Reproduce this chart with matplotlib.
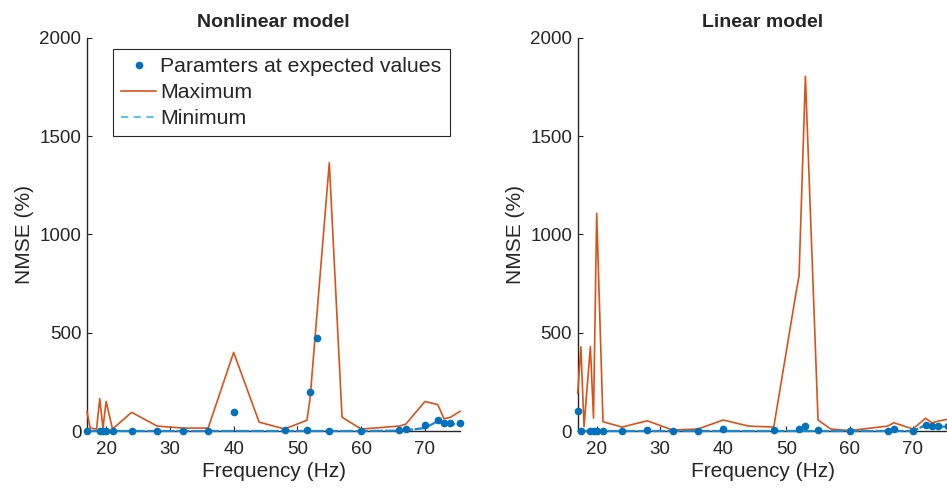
import numpy as np
import matplotlib
matplotlib.use('Agg')
import matplotlib.pyplot as plt
from matplotlib.lines import Line2D

plt.rcParams['font.family'] = ['Liberation Sans', 'DejaVu Sans']

# frequency grid (Hz), shared by both models
freq = [17, 17.5, 18, 18.5, 19, 19.5, 20, 21, 24, 28, 32, 36, 40, 44, 48,
        51.5, 52, 53, 55, 57, 60, 66, 67, 70, 72, 73, 74, 75.5]

# nonlinear model NMSE (%)
nl_expected = [2, np.nan, np.nan, np.nan, 2, 2, 2, 2, 2, 2, 2, 2, 97, np.nan, 3,
               5, 200, 472, 2, np.nan, 2, 5, 8, 30, 58, 42, 40, 40]
nl_max = [98, 15, 12, 10, 165, 15, 150, 10, 95, 25, 15, 15, 400, 45, 10,
          55, 170, 570, 1365, 70, 10, 25, 35, 150, 135, 62, 70, 100]
nl_min = [0, 0, 0, 0, 0, 0, 0, 0, 0, 0, 0, 0, 0, 0, 0,
          0, 0, 0, 0, 0, 0, 2, 4, 15, 50, 35, 35, 35]

# linear model NMSE (%)
lin_expected = [102, 0, np.nan, np.nan, 0, 0, 0, 0, 0, 5, 0, 0, 10, np.nan, 5,
                np.nan, 10, 25, 5, np.nan, 0, 0, 12, 0, 30, 25, 25, 25]
lin_max = [192, 429, 22, 225, 429, 66, 1108, 47, 20, 52, 5, 10, 56, 25, 20,
           700, 790, 1805, 56, 10, 2, 25, 42, 10, 65, 42, 50, 60]
lin_min = [0, 0, 0, 0, 0, 0, 0, 0, 0, 0, 0, 0, 0, 0, 0,
           0, 0, 0, 0, 0, 0, 0, 0, 0, 30, 22, 22, 22]

c_dot = '#0072BD'
c_max = '#D95319'
c_min = '#4DBEEE'
c_txt = '#262626'

W, H = 947, 490
fig = plt.figure(figsize=(W/100, H/100), dpi=100)
ax1 = fig.add_axes([87/W, 1-431/H, 373/W, 393/H])
ax2 = fig.add_axes([577.7/W, 1-431/H, 370/W, 393/H])

for ax, exp_v, max_v, min_v, title in [(ax1, nl_expected, nl_max, nl_min, 'Nonlinear model'),
                                       (ax2, lin_expected, lin_max, lin_min, 'Linear model')]:
    ax.plot(freq, exp_v, '.', color=c_dot, markersize=9, zorder=5, clip_on=False)
    ax.plot(freq, max_v, '-', color=c_max, linewidth=1.2, zorder=3, clip_on=False)
    # dashed minimum, drawn the way matlab renders it on screen (dashes merge on the baseline)
    ax.plot(freq, min_v, linestyle=(0, (6, 0.7)), color='#1F88CC', linewidth=1.6,
            zorder=4, clip_on=False)
    ax.set_xlim(17, 75.5)
    ax.set_ylim(0, 2000)
    ax.set_xticks([20, 30, 40, 50, 60, 70])
    ax.set_yticks([0, 500, 1000, 1500, 2000])
    for s in ['top', 'right']:
        ax.spines[s].set_visible(False)
    for s in ['left', 'bottom']:
        ax.spines[s].set_color(c_txt)
        ax.spines[s].set_linewidth(1.0)
    ax.tick_params(direction='in', length=3.5, width=0.8, colors=c_txt, labelsize=13.5)
    ax.tick_params(axis='x', pad=7)
    ax.tick_params(axis='y', pad=4)
    ax.set_xlabel('Frequency (Hz)', fontsize=15, color=c_txt, labelpad=3)
    ax.set_ylabel('NMSE (%)', fontsize=15, color=c_txt, labelpad=4)
    ax.set_title(title, fontsize=14, fontweight='bold', color=c_txt, pad=8)

handles = [Line2D([], [], linestyle='none', marker='.', markersize=9, color=c_dot),
           Line2D([], [], linestyle='-', color=c_max, linewidth=1.2),
           Line2D([], [], linestyle=(0, (4, 3)), color=c_min, linewidth=1.3)]
labels = ['Paramters at expected values', 'Maximum', 'Minimum']
leg = ax1.legend(handles, labels, loc='upper left', bbox_to_anchor=(113/W, 1-49/H),
                 bbox_transform=fig.transFigure, borderaxespad=0, fontsize=15.3,
                 handlelength=1.65, handletextpad=0.19, labelspacing=0.33, borderpad=0.38,
                 fancybox=False, framealpha=1, edgecolor=c_txt)
leg.get_frame().set_linewidth(0.8)
leg.set_zorder(10)
for t in leg.get_texts():
    t.set_color(c_txt)

fig.savefig('out.png', dpi=100)
